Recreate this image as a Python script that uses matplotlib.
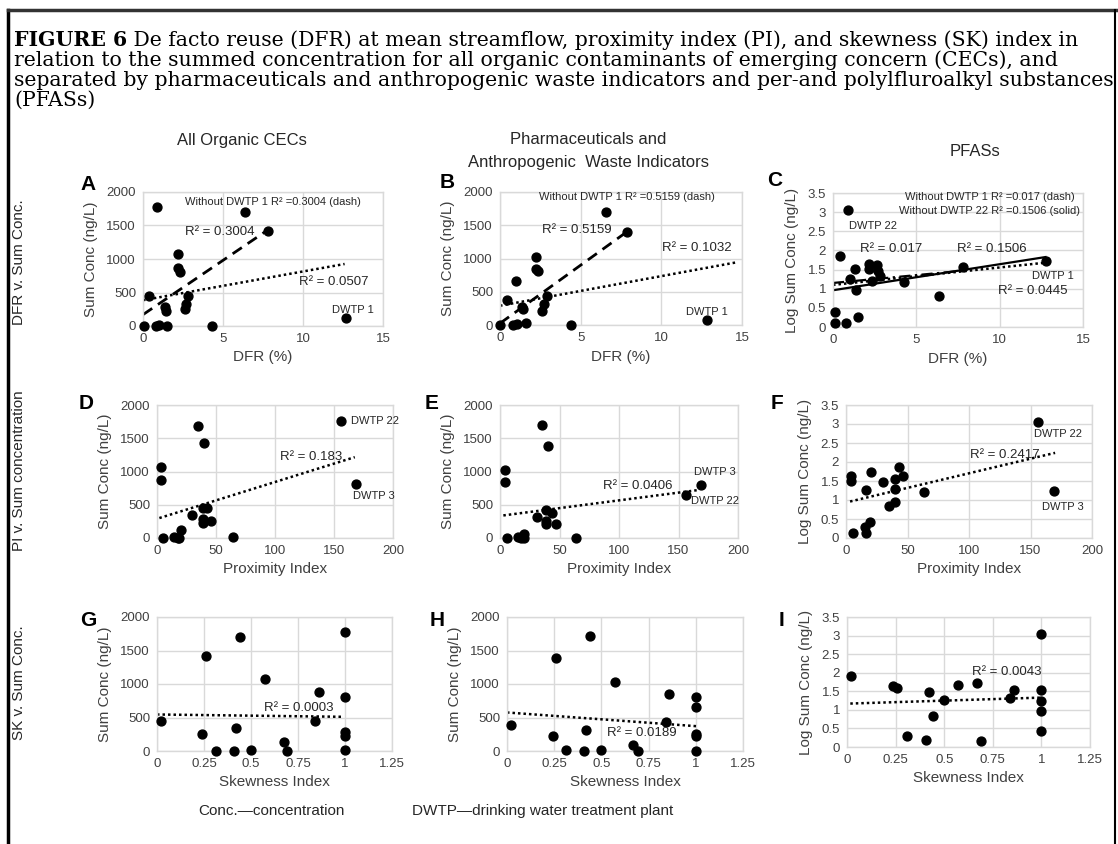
import matplotlib
matplotlib.use('Agg')
import matplotlib.pyplot as plt
from matplotlib.lines import Line2D

# ---------------- DATA ----------------
# Row 1: DFR (%) vs summed concentration
a_x = [0.9, 6.4, 7.8, 2.17, 2.17, 2.3, 0.37, 2.8, 2.7, 2.6, 1.35, 1.45, 0.06, 0.8, 1.0, 1.5, 4.3, 12.7]
a_y = [1770, 1695, 1425, 1070, 870, 810, 450, 445, 335, 260, 285, 225, 0, 0, 15, 5, 5, 120]
b_x = [6.6, 7.85, 2.21, 2.21, 2.33, 0.97, 0.45, 2.89, 2.75, 2.62, 1.34, 1.45, 0.0, 0.79, 1.03, 1.6, 4.38, 12.8]
b_y = [1695, 1400, 1030, 845, 805, 665, 380, 440, 320, 215, 265, 235, 0, 0, 10, 25, 0, 75]
c_x = [0.9, 0.44, 2.13, 2.63, 2.13, 1.3, 2.69, 2.79, 1.04, 2.33, 4.28, 7.77, 12.75, 1.39, 6.37, 0.1, 0.1, 0.8, 1.49]
c_y = [3.05, 1.86, 1.64, 1.63, 1.51, 1.51, 1.46, 1.33, 1.25, 1.2, 1.18, 1.56, 1.73, 0.96, 0.81, 0.39, 0.11, 0.11, 0.26]

# Row 2: proximity index vs summed concentration
d_x = [156.3, 169, 34.6, 40, 3.7, 3.7, 29.6, 38.9, 42.5, 38.9, 38.9, 45.9, 20.3, 5, 14.6, 17.5, 18.9, 64]
d_y = [1760, 815, 1690, 1425, 1075, 865, 340, 450, 450, 290, 225, 260, 125, 0, 15, 0, 0, 10]
e_x = [35.5, 40.6, 4.2, 4.2, 156, 169, 39, 43.4, 30.8, 39, 39, 46.7, 20.4, 6, 15.4, 18, 20, 64]
e_y = [1700, 1390, 1025, 840, 650, 790, 425, 375, 310, 250, 210, 210, 65, 0, 15, 0, 0, 0]
f_x = [156.4, 169, 3.8, 3.8, 20.3, 16.3, 29.8, 43.4, 46.6, 39.8, 39.8, 39.8, 35.2, 63.7, 19.5, 15.4, 16.3, 5.4]
f_y = [3.04, 1.25, 1.64, 1.51, 1.73, 1.26, 1.48, 1.87, 1.63, 1.54, 1.3, 0.95, 0.83, 1.22, 0.41, 0.28, 0.13, 0.13]

# Row 3: skewness index vs summed concentration
g_x = [0.023, 0.239, 0.26, 0.442, 0.313, 0.421, 0.41, 0.5, 0.573, 0.673, 0.694, 0.86, 0.84, 1, 1, 1, 1, 1]
g_y = [450, 260, 1425, 1700, 0, 350, 0, 10, 1075, 135, 0, 875, 445, 1770, 810, 285, 225, 10]
h_x = [0.019, 0.241, 0.258, 0.439, 0.31, 0.421, 0.407, 0.5, 0.572, 0.669, 0.696, 0.86, 0.84, 1, 1, 1, 1, 1]
h_y = [385, 220, 1395, 1710, 20, 320, 0, 10, 1035, 85, 0, 850, 435, 810, 660, 260, 225, 0]
i_x = [0.02, 0.236, 0.258, 0.42, 0.441, 0.308, 0.407, 0.5, 0.57, 0.67, 0.687, 0.838, 0.86, 1, 1, 1, 1, 1]
i_y = [1.9, 1.64, 1.6, 1.48, 0.83, 0.29, 0.18, 1.27, 1.66, 1.73, 0.16, 1.33, 1.53, 3.03, 1.53, 1.24, 0.97, 0.43]

# Trendlines: (x_start, x_end, intercept, slope)
a_trend_all = (0.0, 12.6, 385, 42.9)
a_trend_wo1 = (0.0, 7.66, 170, 162.0)
b_trend_all = (0.0, 14.6, 290, 44.5)
b_trend_wo1 = (0.0, 7.75, 25, 175.0)
c_trend_all = (0.0, 12.75, 1.10, 0.0455)
c_trend_wo1 = (0.0, 7.8, 1.15, 0.041)
c_trend_wo22 = (0.0, 12.75, 0.96, 0.068)
d_trend = (2.0, 167.6, 289, 5.53)
e_trend = (2.8, 167.8, 333, 2.33)
f_trend = (3.3, 170.0, 0.935, 0.00768)
g_trend = (0.0, 0.988, 545, -35.0)
h_trend = (0.0, 1.005, 575, -204.0)
i_trend = (0.017, 1.0, 1.167, 0.163)

x_ticks_dfr = [0, 5, 10, 15]
x_ticks_pi = [0, 50, 100, 150, 200]
x_ticks_sk = [0, 0.25, 0.5, 0.75, 1, 1.25]
x_ticklabels_sk = ['0', '0.25', '0.5', '0.75', '1', '1.25']
y_ticks_conc = [0, 500, 1000, 1500, 2000]
y_ticks_log = [0, 0.5, 1, 1.5, 2, 2.5, 3, 3.5]
y_ticklabels_log = ['0', '0.5', '1', '1.5', '2', '2.5', '3', '3.5']

# ---------------- FIGURE ----------------
W, H = 1118, 844
fig = plt.figure(figsize=(W / 100, H / 100), dpi=100)
SANS = ['Liberation Sans', 'DejaVu Sans']
SERIF = ['DejaVu Serif', 'Liberation Serif']
plt.rcParams['font.family'] = SANS

TICKC = '#404040'
GRIDC = '#d9d9d9'


def px_axes(l, t, r, b):
    return fig.add_axes([l / W, 1 - b / H, (r - l) / W, (b - t) / H])


def style(ax, xt, yt, xl, yl, xtl=None, ytl=None, xlab='', ylab=''):
    ax.set_xlim(*xl)
    ax.set_ylim(*yl)
    ax.set_xticks(xt)
    ax.set_yticks(yt)
    if xtl is not None:
        ax.set_xticklabels(xtl)
    if ytl is not None:
        ax.set_yticklabels(ytl)
    ax.grid(True, color=GRIDC, lw=1.0)
    ax.set_axisbelow(True)
    for s in ax.spines.values():
        s.set_color(GRIDC)
        s.set_linewidth(1.0)
    ax.tick_params(length=0, labelsize=9.5, colors=TICKC, pad=5)
    ax.set_xlabel(xlab, fontsize=11, color=TICKC, labelpad=4)
    ax.set_ylabel(ylab, fontsize=11, color=TICKC, labelpad=6)


def scatter(ax, x, y):
    ax.plot(x, y, 'o', color='black', ms=6.4, zorder=3, clip_on=False)


def trend(ax, t, ls, lw):
    x0, x1, b, m = t
    ax.plot([x0, x1], [b + m * x0, b + m * x1], color='black', ls=ls, lw=lw, zorder=2)


def note(ax, x, y, s, size=8.2, ha='center'):
    ax.text(x, y, s, fontsize=size, ha=ha, va='center', color='#262626', zorder=4, clip_on=False)


DASH = (0, (4, 2.5))
DOT = (0, (1, 1.2))

# --- Row 1 ---
axA = px_axes(143, 192, 383, 326)
style(axA, x_ticks_dfr, y_ticks_conc, (0, 15), (0, 2000), xlab='DFR (%)', ylab='Sum Conc (ng/L)')
trend(axA, a_trend_all, DOT, 1.8)
trend(axA, a_trend_wo1, DASH, 2.0)
scatter(axA, a_x, a_y)
note(axA, 8.1, 1850, 'Without DWTP 1 R² =0.3004 (dash)', 8)
note(axA, 4.8, 1403, 'R² = 0.3004', 9.5)
note(axA, 11.9, 657, 'R² = 0.0507', 9.5)
note(axA, 13.1, 239, 'DWTP 1', 8)

axB = px_axes(500, 192, 742, 325)
style(axB, x_ticks_dfr, y_ticks_conc, (0, 15), (0, 2000), xlab='DFR (%)', ylab='Sum Conc (ng/L)')
trend(axB, b_trend_all, DOT, 1.8)
trend(axB, b_trend_wo1, DASH, 2.0)
scatter(axB, b_x, b_y)
note(axB, 7.87, 1925, 'Without DWTP 1 R² =0.5159 (dash)', 8)
note(axB, 4.77, 1430, 'R² = 0.5159', 9.5)
note(axB, 12.2, 1158, 'R² = 0.1032', 9.5)
note(axB, 12.8, 195, 'DWTP 1', 8)

axC = px_axes(833, 193, 1083, 327)
style(axC, x_ticks_dfr, y_ticks_log, (0, 15), (0, 3.5), ytl=y_ticklabels_log,
      xlab='DFR (%)', ylab='Log Sum Conc (ng/L)')
trend(axC, c_trend_all, DOT, 1.8)
trend(axC, c_trend_wo1, (0, (5, 2, 1, 2)), 1.6)
trend(axC, c_trend_wo22, '-', 1.6)
scatter(axC, c_x, c_y)
note(axC, 9.4, 3.39, 'Without DWTP 1 R² =0.017 (dash)', 8)
note(axC, 9.4, 3.03, 'Without DWTP 22 R² =0.1506 (solid)', 8)
note(axC, 2.4, 2.64, 'DWTP 22', 8)
note(axC, 3.5, 2.04, 'R² = 0.017', 9.5)
note(axC, 9.5, 2.04, 'R² = 0.1506', 9.5)
note(axC, 13.2, 1.33, 'DWTP 1', 8)
note(axC, 12.0, 0.94, 'R² = 0.0445', 9.5)

# --- Row 2 ---
axD = px_axes(157, 405, 393, 538)
style(axD, x_ticks_pi, y_ticks_conc, (0, 200), (0, 2000), xlab='Proximity Index', ylab='Sum Conc (ng/L)')
trend(axD, d_trend, DOT, 1.8)
scatter(axD, d_x, d_y)
note(axD, 131, 1218, 'R² = 0.183', 9.5)
note(axD, 164, 1760, 'DWTP 22', 8, ha='left')
note(axD, 166, 632, 'DWTP 3', 8, ha='left')

axE = px_axes(500, 405, 738, 538)
style(axE, x_ticks_pi, y_ticks_conc, (0, 200), (0, 2000), xlab='Proximity Index', ylab='Sum Conc (ng/L)')
trend(axE, e_trend, DOT, 1.8)
scatter(axE, e_x, e_y)
note(axE, 116, 782, 'R² = 0.0406', 9.5)
note(axE, 180.7, 992, 'DWTP 3', 8)
note(axE, 180.7, 556, 'DWTP 22', 8)

axF = px_axes(846, 405, 1092, 538)
style(axF, x_ticks_pi, y_ticks_log, (0, 200), (0, 3.5), ytl=y_ticklabels_log,
      xlab='Proximity Index', ylab='Log Sum Conc (ng/L)')
trend(axF, f_trend, DOT, 1.8)
scatter(axF, f_x, f_y)
note(axF, 129, 2.18, 'R² = 0.2417', 9.5)
note(axF, 172, 2.74, 'DWTP 22', 8)
note(axF, 176, 0.82, 'DWTP 3', 8)

# --- Row 3 ---
axG = px_axes(157, 617, 392, 751)
style(axG, x_ticks_sk, y_ticks_conc, (0, 1.25), (0, 2000), xtl=x_ticklabels_sk,
      xlab='Skewness Index', ylab='Sum Conc (ng/L)')
trend(axG, g_trend, DOT, 1.8)
scatter(axG, g_x, g_y)
note(axG, 0.755, 642, 'R² = 0.0003', 9.5)

axH = px_axes(507, 617, 743, 751)
style(axH, x_ticks_sk, y_ticks_conc, (0, 1.25), (0, 2000), xtl=x_ticklabels_sk,
      xlab='Skewness Index', ylab='Sum Conc (ng/L)')
trend(axH, h_trend, DOT, 1.8)
scatter(axH, h_x, h_y)
note(axH, 0.715, 269, 'R² = 0.0189', 9.5)

axI = px_axes(847, 617, 1090, 747)
style(axI, x_ticks_sk, y_ticks_log, (0, 1.25), (0, 3.5), xtl=x_ticklabels_sk, ytl=y_ticklabels_log,
      xlab='Skewness Index', ylab='Log Sum Conc (ng/L)')
trend(axI, i_trend, DOT, 1.8)
scatter(axI, i_x, i_y)
note(axI, 0.823, 2.02, 'R² = 0.0043', 9.5)


# ---------------- FIGURE TEXT ----------------
def ftext(x, y, s, **kw):
    return fig.text(x / W, 1 - y / H, s, **kw)


# panel letters
for (lx, ly, L) in [(88, 184, 'A'), (447, 183, 'B'), (775, 180, 'C'),
                    (86, 404, 'D'), (432, 404, 'E'), (777, 404, 'F'),
                    (88, 620, 'G'), (437, 620, 'H'), (782, 620, 'I')]:
    ftext(lx, ly, L, fontsize=15, fontweight='bold', ha='center', va='center', color='black')

# column headers
HDRC = '#262626'
HFS = 12
ftext(242, 140, 'All Organic CECs', fontsize=HFS, ha='center', va='center', color=HDRC)
ftext(588, 140, 'Pharmaceuticals and', fontsize=HFS, ha='center', va='center', color=HDRC)
ftext(588, 162, 'Anthropogenic  Waste Indicators', fontsize=HFS, ha='center', va='center', color=HDRC)
ftext(975, 152, 'PFASs', fontsize=HFS, ha='center', va='center', color=HDRC)

# row labels
ftext(19, 262, 'DFR v. Sum Conc.', fontsize=11, rotation=90, ha='center', va='center', color=HDRC)
ftext(19, 471, 'PI v. Sum concentration', fontsize=11, rotation=90, ha='center', va='center', color=HDRC)
ftext(19, 683, 'SK v. Sum Conc.', fontsize=11, rotation=90, ha='center', va='center', color=HDRC)

# caption (font size fitted so that the first line spans the same width as the reference)
cap_head = 'FIGURE 6'
cap_lines = [
    ' De facto reuse (DFR) at mean streamflow, proximity index (PI), and skewness (SK) index in',
    'relation to the summed concentration for all organic contaminants of emerging concern (CECs), and',
    'separated by pharmaceuticals and anthropogenic waste indicators and per-and polylfluroalkyl substances',
    '(PFASs)',
]
renderer = fig.canvas.get_renderer()
fs0 = 14.0
h0 = ftext(14, 40, cap_head, fontsize=fs0, fontweight='bold', family=SERIF, ha='left', va='center')
r0 = ftext(14, 40, cap_lines[0], fontsize=fs0, family=SERIF, ha='left', va='center')
wtot = h0.get_window_extent(renderer).width + r0.get_window_extent(renderer).width
CAPFS = fs0 * 1066.0 / wtot
h0.remove()
r0.remove()
CAP_Y0, CAP_DY = 40, 20
t0 = ftext(14, CAP_Y0, cap_head, fontsize=CAPFS, fontweight='bold', family=SERIF, ha='left', va='center')
bb = t0.get_window_extent(renderer)
fig.text(bb.x1 / W, 1 - CAP_Y0 / H, cap_lines[0], fontsize=CAPFS, family=SERIF, ha='left', va='center')
for k, line in enumerate(cap_lines[1:]):
    ftext(14, CAP_Y0 + CAP_DY * (k + 1), line, fontsize=CAPFS, family=SERIF, ha='left', va='center')

# footer
ftext(198, 811, 'Conc.\u2014concentration', fontsize=11, ha='left', va='center', color=HDRC)
ftext(412, 811, 'DWTP\u2014drinking water treatment plant', fontsize=11, ha='left', va='center', color=HDRC)

# outer frame
fig.add_artist(Line2D([8 / W, 8 / W], [0, 1 - 10 / H], color='black', lw=2.5, transform=fig.transFigure))
fig.add_artist(Line2D([8 / W, 1], [1 - 10 / H, 1 - 10 / H], color='#333333', lw=2.5, transform=fig.transFigure))
fig.add_artist(Line2D([1115 / W, 1115 / W], [0, 1 - 10 / H], color='black', lw=1.5, transform=fig.transFigure))

fig.savefig('out.png', dpi=100, facecolor='white')
